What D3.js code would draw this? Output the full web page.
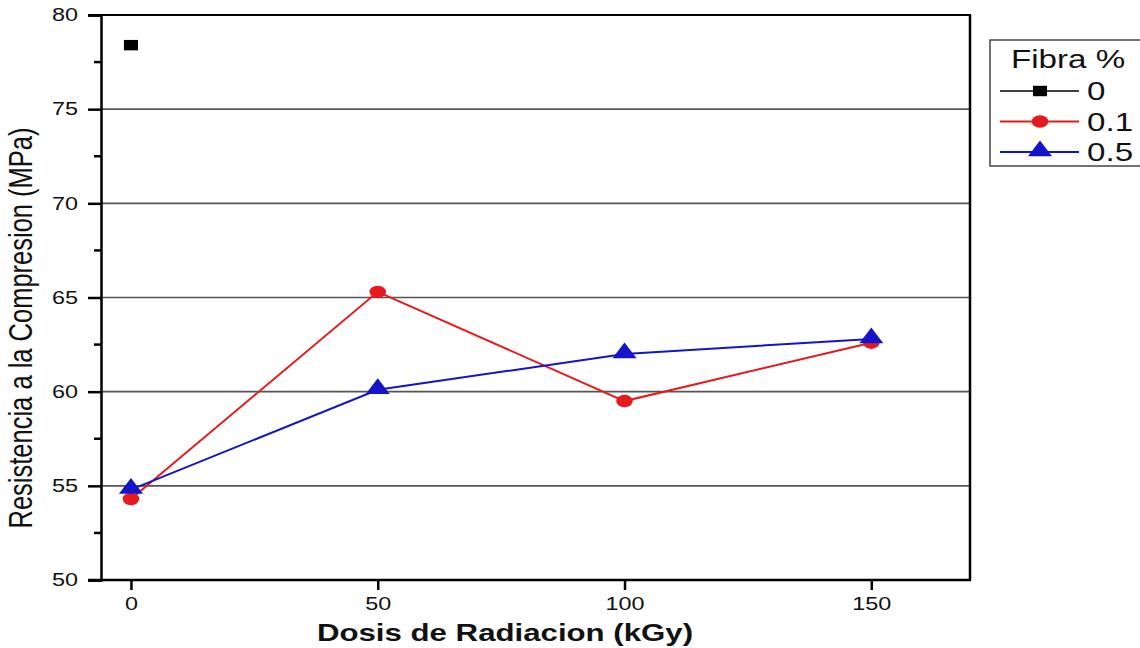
<!DOCTYPE html>
<html><head><meta charset="utf-8">
<script src="https://cdn.jsdelivr.net/npm/d3@7"></script>
<style>body{margin:0;background:#fff;} svg{display:block;}</style>
</head><body>
<script>
const doses = [0, 50, 100, 150];
const fibra0 = [78.4];
const fibra01 = [54.3, 65.3, 59.5, 62.6];
const fibra05 = [54.8, 60.1, 62.0, 62.8];
const seriesNames = ["0", "0.1", "0.5"];
const yTicks = [50, 55, 60, 65, 70, 75, 80];
const xTicks = [0, 50, 100, 150];

const W = 1140, H = 648;
const SX = 1.3; // horizontal stretch of the reference text
const FONT = "Liberation Sans, Arial, sans-serif";
const svg = d3.select("body").append("svg").attr("width", W).attr("height", H);
const L = 101, R = 970, T = 15, B = 580;
const x = d3.scaleLinear().domain([-6.07, 170]).range([L, R]);
const y = d3.scaleLinear().domain([50, 80]).range([B, T]);

// grid
svg.append("g").selectAll("line").data([55,60,65,70,75]).join("line")
  .attr("x1", L).attr("x2", R).attr("y1", d=>y(d)).attr("y2", d=>y(d))
  .attr("stroke", "#555").attr("stroke-width", 1.6);

// frame top/right
svg.append("line").attr("x1", L-13).attr("x2", R+1).attr("y1", T).attr("y2", T).attr("stroke","#000").attr("stroke-width",2);
svg.append("line").attr("x1", R).attr("x2", R).attr("y1", T).attr("y2", B).attr("stroke","#000").attr("stroke-width",2.5);

// y axis
const ya = d3.axisLeft(y).tickValues(yTicks).tickSize(13).tickFormat(d3.format("d"));
const gy = svg.append("g").attr("transform", `translate(${L},0)`).call(ya);
gy.select(".domain").attr("stroke-width", 2.5);
gy.selectAll(".tick line").attr("stroke-width", 2.5);
gy.selectAll("text").attr("x", 0).attr("transform", `translate(-23,0) scale(${SX},1)`)
  .attr("font-family", FONT).attr("font-size", 18).attr("fill","#111");
// minor
svg.append("g").selectAll("line").data(d3.range(52.5, 80, 5)).join("line")
  .attr("x1", L-7).attr("x2", L).attr("y1", d=>y(d)).attr("y2", d=>y(d))
  .attr("stroke","#000").attr("stroke-width",2.5);

// x axis
const xa = d3.axisBottom(x).tickValues(xTicks).tickSize(10).tickFormat(d3.format("d"));
const gx = svg.append("g").attr("transform", `translate(0,${B})`).call(xa);
gx.select(".domain").attr("stroke-width", 2.5).attr("d", `M${L-13},0H${R+1}`);
gx.selectAll(".tick line").attr("stroke-width", 2.5);
gx.selectAll("text").attr("y", 0).attr("dy", 0).attr("transform", `translate(0,30) scale(${SX},1)`)
  .attr("font-family", FONT).attr("font-size", 18).attr("fill","#111");

// labels
svg.append("text").attr("transform", `translate(505,641) scale(${SX},1)`).attr("text-anchor","middle")
  .attr("font-family", FONT).attr("font-weight","bold").attr("font-size",24).attr("fill","#111")
  .text("Dosis de Radiacion (kGy)");
svg.append("text").attr("transform",`translate(32,328) scale(${SX},1) rotate(-90)`).attr("text-anchor","middle")
  .attr("font-family", FONT).attr("font-size",25.5).attr("fill","#111")
  .text("Resistencia a la Compresion (MPa)");

// series
const red = "#e8191c", blue = "#1414c8";
const d01 = doses.map((d,i)=>[d, fibra01[i]]);
const d05 = doses.map((d,i)=>[d, fibra05[i]]);
svg.append("path").datum(d01).attr("fill","none").attr("stroke",red).attr("stroke-width",2)
  .attr("d", d3.line().x(d=>x(d[0])).y(d=>y(d[1])));
svg.append("path").datum(d05).attr("fill","none").attr("stroke",blue).attr("stroke-width",2)
  .attr("d", d3.line().x(d=>x(d[0])).y(d=>y(d[1])));

const sq = d3.symbol().type(d3.symbolSquare).size(150);
const circ = d3.symbol().type(d3.symbolCircle).size(150);
const tri = d3.symbol().type(d3.symbolTriangle).size(160);
svg.append("g").selectAll("path").data(fibra0.map((v,i)=>[doses[i], v])).join("path")
  .attr("transform", d=>`translate(${x(d[0])},${y(d[1])}) scale(1.15,0.85)`).attr("d", sq).attr("fill","#000");
svg.append("g").selectAll("path").data(d01).join("path")
  .attr("transform", d=>`translate(${x(d[0])},${y(d[1])}) scale(1.2,0.9)`).attr("d", circ).attr("fill",red);
svg.append("g").selectAll("path").data(d05).join("path")
  .attr("transform", d=>`translate(${x(d[0])},${y(d[1])-1}) scale(1.25,0.95)`).attr("d", tri).attr("fill",blue);

// legend
const lg = svg.append("g");
lg.append("rect").attr("x", 990).attr("y", 40).attr("width", 160).attr("height", 126)
  .attr("fill","#fff").attr("stroke","#444").attr("stroke-width",1.5);
lg.append("text").attr("transform", `translate(1011,68) scale(${SX},1)`).attr("font-family", FONT)
  .attr("font-size",25.5).attr("fill","#111").text("Fibra %");
const cols = ["#000", red, blue];
const syms = [sq, circ, tri];
const scl = ["scale(1.15,0.85)", "scale(1.2,0.9)", "scale(1.25,0.95)"];
seriesNames.forEach((n,i)=>{
  const yy = 91 + i*30.5;
  lg.append("line").attr("x1",1000).attr("x2",1079).attr("y1",yy).attr("y2",yy).attr("stroke",cols[i]).attr("stroke-width", i==0?1.3:2);
  lg.append("path").attr("transform",`translate(1040,${yy - (i==2?1:0)}) ${scl[i]}`).attr("d",syms[i]).attr("fill",cols[i]);
  lg.append("text").attr("transform",`translate(1087,${yy+9}) scale(${SX},1)`).attr("font-family", FONT)
    .attr("font-size",25.5).attr("fill","#111").text(n);
});
</script>
</body></html>
